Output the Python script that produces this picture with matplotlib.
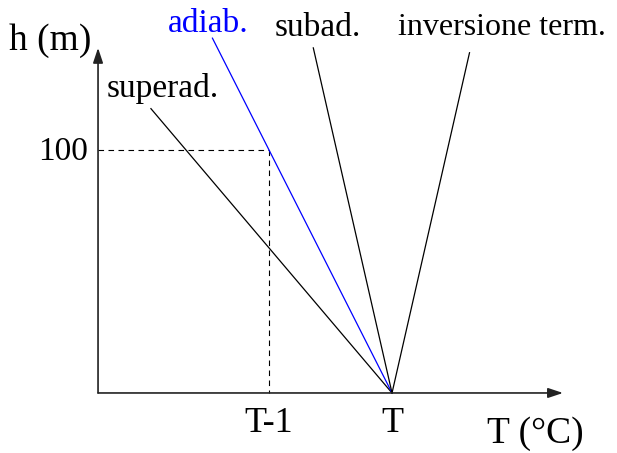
import matplotlib
matplotlib.use("Agg")
import matplotlib.pyplot as plt

# data (T = 0, temperature offsets in °C, heights in m)
line_names = ["superad.", "adiab.", "subad.", "inversione term."]
line_top_x = [-1.96, -1.46, -0.64, 0.63]
line_top_h = [117, 146, 142, 140]
line_colors = ["black", "blue", "black", "black"]
ref_T = -1
ref_h = 100

plt.rcParams['font.family'] = ['Liberation Serif', 'DejaVu Serif']

fig = plt.figure(figsize=(6.17, 4.53), dpi=100)
ax = fig.add_axes([0, 0, 1, 1])
ax.set_xlim(-3.187, 1.829)
ax.set_ylim(-24.7, 161.7)
ax.axis('off')

x0, y0 = -2.39, 0
# axes arrows
ax.annotate('', xy=(1.39, 0), xytext=(x0, 0),
            arrowprops=dict(arrowstyle='-|>,head_length=0.9,head_width=0.3', color='#222222', lw=1.2, shrinkA=0, shrinkB=0))
ax.annotate('', xy=(x0, 142), xytext=(x0, 0),
            arrowprops=dict(arrowstyle='-|>,head_length=0.9,head_width=0.3', color='#222222', lw=1.2, shrinkA=0, shrinkB=0))

# dashed reference
ax.plot([x0, ref_T], [ref_h, ref_h], color='black', lw=0.8, ls=(0, (5, 4)))
ax.plot([ref_T, ref_T], [ref_h, 0], color='black', lw=0.8, ls=(0, (5, 4)))

for tx, th, c in zip(line_top_x, line_top_h, line_colors):
    ax.plot([0, tx], [0, th], color=c, lw=0.9)

ax.text(-1.866, 121.8, "superad.", fontsize=24, ha='center', va='baseline')
ax.text(-1.49, 148.6, "adiab.", fontsize=24, ha='center', va='baseline', color='blue')
ax.text(-0.605, 146.9, "subad.", fontsize=24, ha='center', va='baseline')
ax.text(0.892, 147.3, "inversione term.", fontsize=23, ha='center', va='baseline')
ax.text(-2.78, 141.2, "h (m)", fontsize=27, ha='center', va='baseline')
ax.text(-2.47, 95.9, "100", fontsize=24, ha='right', va='baseline')
ax.text(ref_T, -16.0, "T-1", fontsize=26, ha='center', va='baseline')
ax.text(0, -16.0, "T", fontsize=26, ha='center', va='baseline')
ax.text(1.163, -20.6, "T (°C)", fontsize=27, ha='center', va='baseline')

fig.savefig("out.png", dpi=100)
